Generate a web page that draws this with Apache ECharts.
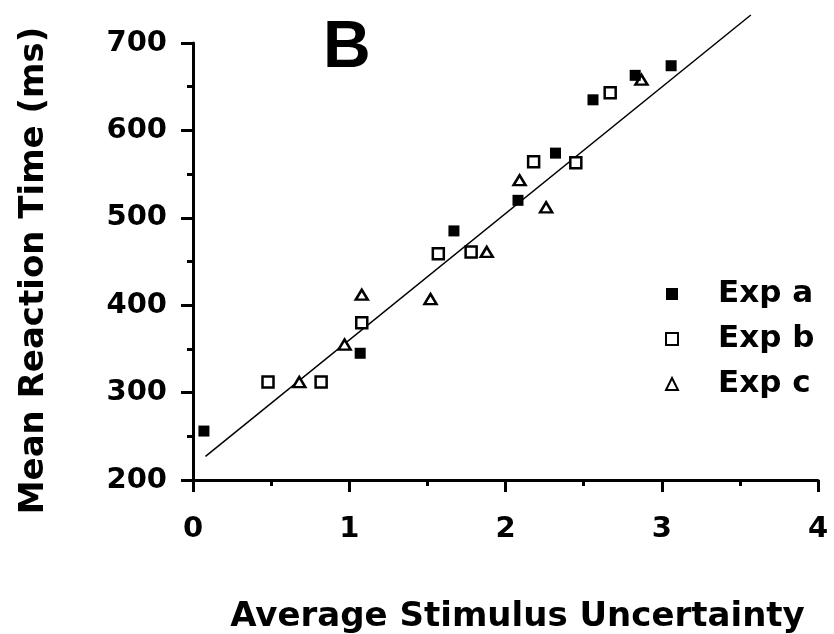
<!DOCTYPE html>
<html>
<head>
<meta charset="utf-8">
<script src="https://cdn.jsdelivr.net/npm/echarts@6/dist/echarts.min.js"></script>
<style>
html,body{margin:0;padding:0;background:#fff;}
#chart{width:834px;height:634px;}
</style>
</head>
<body>
<div id="chart"></div>
<script>
// Data
const expA = [[0.07,256],[1.07,345],[1.67,485],[2.08,520],[2.32,574],[2.56,635],[2.83,663],[3.06,674]];
const expB = [[0.48,312],[0.82,312],[1.08,380],[1.57,459],[1.78,461],[2.18,564],[2.45,563],[2.67,643]];
const expC = [[0.68,312],[0.97,355],[1.08,412],[1.52,407],[1.88,461],[2.09,543],[2.26,512],[2.87,658]];
const fitLine = [[0.08,227],[3.57,732]];
const seriesNames = ['Exp a','Exp b','Exp c'];
const xTicks = {min:0, max:4, interval:1};
const yTicks = {min:200, max:700, interval:100};

const FONT = 'DejaVu Sans';
const chart = echarts.init(document.getElementById('chart'), null, {renderer:'canvas'});
const axisCommon = {
  axisLine:{show:true, onZero:false, lineStyle:{color:'#000', width:3}},
  axisTick:{show:true, length:12, lineStyle:{color:'#000', width:3}},
  minorTick:{show:true, splitNumber:2, length:6, lineStyle:{color:'#000', width:3}},
  splitLine:{show:false},
  nameTextStyle:{color:'#000', fontFamily:FONT, fontWeight:'bold', fontSize:34}
};
chart.setOption({
  animation:false,
  backgroundColor:'#fff',
  title:{text:'B', left:318, top:11, textStyle:{fontFamily:'Liberation Sans', fontWeight:'bold', fontSize:66, color:'#000'}},
  grid:{left:193, right:16, top:43, bottom:154, containLabel:false, outerBoundsMode:'none'},
  legend:{
    orient:'vertical', left:660, top:271, itemWidth:12, itemHeight:12, itemGap:9,
    data:[
      {name:seriesNames[0], icon:'rect'},
      {name:seriesNames[1], icon:'rect'},
      {name:seriesNames[2], icon:'triangle'}
    ],
    textStyle:{color:'#000', fontFamily:FONT, fontWeight:'bold', fontSize:31, padding:[0,0,0,35], lineHeight:36}
  },
  xAxis:Object.assign({}, axisCommon, {
    type:'value', min:xTicks.min, max:xTicks.max, interval:xTicks.interval,
    name:'Average Stimulus Uncertainty', nameLocation:'middle', nameGap:120,
    nameTextStyle:Object.assign({}, axisCommon.nameTextStyle, {padding:[0,0,0,24]}),
    axisLabel:{color:'#000', fontFamily:FONT, fontWeight:'bold', fontSize:29, margin:35}
  }),
  yAxis:Object.assign({}, axisCommon, {
    type:'value', min:yTicks.min, max:yTicks.max, interval:yTicks.interval,
    name:'Mean Reaction Time (ms)', nameLocation:'middle', nameGap:142,
    nameTextStyle:Object.assign({}, axisCommon.nameTextStyle, {padding:[0,18,0,0]}),
    axisLabel:{color:'#000', fontFamily:FONT, fontWeight:'bold', fontSize:29, margin:26}
  }),
  series:[
    {name:'fit', type:'line', data:fitLine, symbol:'none', clip:false, silent:true,
     lineStyle:{color:'#000', width:1.5}, z:1},
    {name:seriesNames[0], type:'scatter', data:expA, symbol:'rect', symbolSize:11,
     itemStyle:{color:'#000', borderColor:'#000', borderWidth:0, opacity:1}, z:3},
    {name:seriesNames[1], type:'scatter', data:expB, symbol:'rect', symbolSize:11,
     itemStyle:{color:'#fff', borderColor:'#000', borderWidth:2.5, opacity:1}, z:2},
    {name:seriesNames[2], type:'scatter', data:expC, symbol:'triangle', symbolSize:[12,10],
     itemStyle:{color:'#fff', borderColor:'#000', borderWidth:2.5, opacity:1}, z:2}
  ]
});
</script>
</body>
</html>
